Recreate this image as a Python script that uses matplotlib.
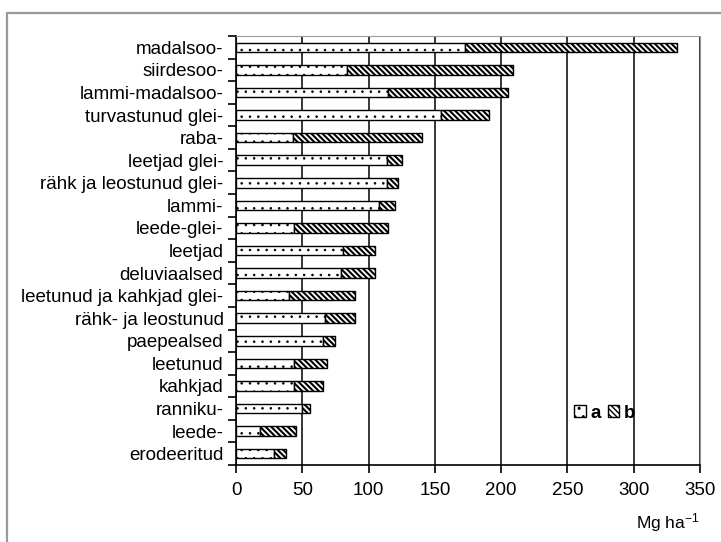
import numpy as np
import matplotlib.pyplot as plt
from matplotlib.patches import Rectangle

plt.rcParams['font.family'] = ['Liberation Sans', 'DejaVu Sans']
plt.rcParams['mathtext.default'] = 'regular'

categories = ['madalsoo-', 'siirdesoo-', 'lammi-madalsoo-', 'turvastunud glei-', 'raba-',
              'leetjad glei-', 'rähk ja leostunud glei-', 'lammi-', 'leede-glei-', 'leetjad',
              'deluviaalsed', 'leetunud ja kahkjad glei-', 'rähk- ja leostunud', 'paepealsed',
              'leetunud', 'kahkjad', 'ranniku-', 'leede-', 'erodeeritud']
a_vals = [173, 84, 115, 155, 43, 114, 114, 108, 44, 81, 79, 40, 67, 66, 44, 44, 50, 18, 29]
totals = [333, 209, 205, 191, 140, 125, 122, 120, 115, 105, 105, 90, 90, 75, 69, 66, 56, 45, 38]
b_vals = [t - a for t, a in zip(totals, a_vals)]

fig = plt.figure(figsize=(7.21, 5.42), dpi=100)
ax = fig.add_axes([236 / 721, 1 - 465 / 542, 464 / 721, 429 / 542])

y = np.arange(len(categories))[::-1]
with plt.rc_context({'hatch.linewidth': 0.6}):
    bars_a = ax.barh(y, a_vals, height=0.42, color='white', edgecolor='black', hatch='..',
                     linewidth=1, label='a')
with plt.rc_context({'hatch.linewidth': 1.5}):
    bars_b = ax.barh(y, b_vals, left=a_vals, height=0.42, color='white', edgecolor='black',
                     hatch='\\\\\\\\\\\\', linewidth=1, label='b')
for p in bars_a:
    if hasattr(p, 'set_hatch_linewidth'):
        p.set_hatch_linewidth(0.6)
for p in bars_b:
    if hasattr(p, 'set_hatch_linewidth'):
        p.set_hatch_linewidth(1.5)

ax.set_xlim(0, 350)
ax.set_ylim(-0.5, len(categories) - 0.5)
ax.set_xticks(range(0, 351, 50))
ax.set_yticks(y)
ax.set_yticklabels(categories, fontsize=13.5)
ax.set_yticks(np.arange(-0.5, len(categories), 1), minor=True)
ax.tick_params(axis='y', which='major', length=0, pad=9)
ax.tick_params(axis='y', which='minor', length=6, width=1.2, direction='out')
ax.tick_params(axis='x', length=6, width=1.2, labelsize=13.5, pad=6)

ax.grid(axis='x', color='black', linewidth=1.1)
ax.set_axisbelow(True)
for s in ['top', 'right']:
    ax.spines[s].set_color('#999999')
for s in ['left', 'bottom']:
    ax.spines[s].set_linewidth(1.2)

ax.set_xlabel('Mg ha$^{-1}$', loc='right', fontsize=12.5, labelpad=9)

leg = ax.legend(loc='center', bbox_to_anchor=(0.795, 0.121), ncol=2, frameon=False,
                handlelength=0.6, handleheight=0.6, handletextpad=0.25, columnspacing=0.4,
                prop={'weight': 'bold', 'size': 13.5})

fig.patches.append(Rectangle((7 / 721, -0.05), 1.2, 1 - 13 / 542 + 0.05,
                             transform=fig.transFigure, fill=False,
                             edgecolor='#999999', linewidth=1.6))

fig.savefig('out.png', dpi=100)
